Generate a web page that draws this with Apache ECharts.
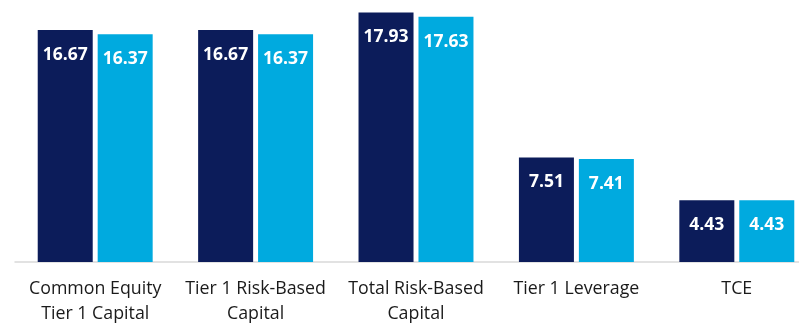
<!DOCTYPE html>
<html>
<head>
<meta charset="utf-8">
<script src="https://cdn.jsdelivr.net/npm/echarts@6/dist/echarts.min.js"></script>
<style>
  html, body { margin: 0; padding: 0; background: #fff; }
  #chart { width: 799px; height: 323px; }
</style>
</head>
<body>
<div id="chart"></div>
<script>
const categories = [
  'Common Equity\nTier 1 Capital',
  'Tier 1 Risk-Based\nCapital',
  'Total Risk-Based\nCapital',
  'Tier 1 Leverage',
  'TCE'
];
const seriesA = [16.67, 16.67, 17.93, 7.51, 4.43];
const seriesB = [16.37, 16.37, 17.63, 7.41, 4.43];
const seriesNames = ['Series A', 'Series B'];
const colors = ['#0c1c5a', '#00aadf'];

const chart = echarts.init(document.getElementById('chart'));

function barSeries(name, data, color) {
  return {
    name: name,
    type: 'bar',
    data: data,
    barWidth: 55,
    barGap: '9%',
    itemStyle: { color: color },
    label: {
      show: true,
      position: 'insideTop',
      distance: 16,
      color: '#fff',
      fontFamily: 'Open Sans',
      fontWeight: 'bold',
      fontSize: 17.5,
      formatter: (p) => p.value.toFixed(2)
    }
  };
}

chart.setOption({
  animation: false,
  // the last category runs past the right edge in the reference
  grid: {
    left: 15, width: 802, top: 11.5, bottom: 61,
    containLabel: false,
    outerBoundsMode: 'none'
  },
  xAxis: {
    type: 'category',
    data: categories,
    axisLine: { lineStyle: { color: '#d9d9d9', width: 1.5 } },
    axisTick: { show: false },
    axisLabel: {
      margin: 14,
      color: '#1a1a1a',
      fontFamily: 'Open Sans',
      fontSize: 17.8,
      lineHeight: 25,
      interval: 0
    }
  },
  yAxis: {
    type: 'value',
    min: 0,
    max: 18,
    show: false
  },
  series: [
    barSeries(seriesNames[0], seriesA, colors[0]),
    barSeries(seriesNames[1], seriesB, colors[1])
  ]
});
</script>
</body>
</html>
